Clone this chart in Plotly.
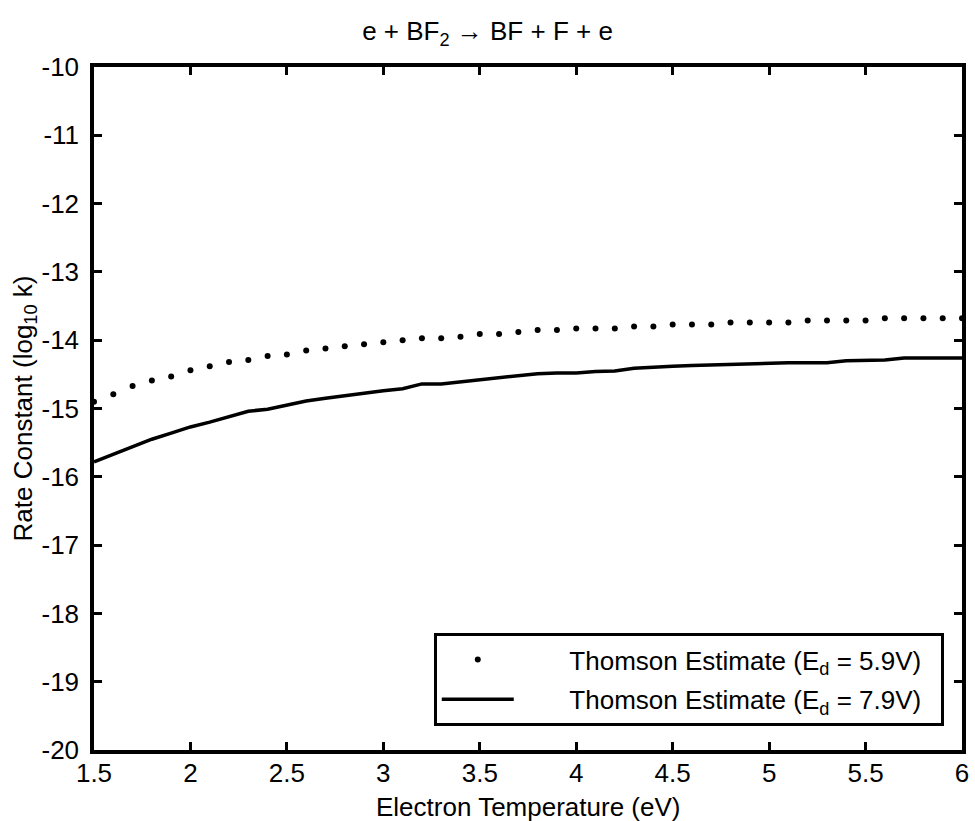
import plotly.graph_objects as go

# Electron temperature (eV)
temp_dotted = [1.5, 1.6, 1.7, 1.8, 1.9, 2.0, 2.1, 2.2, 2.3, 2.4, 2.5, 2.6, 2.7, 2.8, 2.9,
               3.0, 3.1, 3.2, 3.3, 3.4, 3.5, 3.6, 3.7, 3.8, 3.9, 4.0, 4.1, 4.2, 4.3, 4.4,
               4.5, 4.6, 4.7, 4.8, 4.9, 5.0, 5.1, 5.2, 5.3, 5.4, 5.5, 5.6, 5.7, 5.8, 5.9, 6.0]
# log10 k, Thomson estimate Ed = 5.9 V
logk_59 = [-14.90, -14.79, -14.67, -14.59, -14.53, -14.44, -14.38, -14.32, -14.29, -14.23,
           -14.21, -14.15, -14.12, -14.09, -14.06, -14.03, -14.00, -13.97, -13.97, -13.95,
           -13.91, -13.91, -13.88, -13.85, -13.85, -13.83, -13.83, -13.83, -13.80, -13.80,
           -13.77, -13.77, -13.77, -13.74, -13.74, -13.74, -13.74, -13.71, -13.71, -13.71,
           -13.71, -13.68, -13.68, -13.68, -13.68, -13.68]

temp_solid = temp_dotted
# log10 k, Thomson estimate Ed = 7.9 V
logk_79 = [-15.78, -15.67, -15.56, -15.45, -15.36, -15.27, -15.20, -15.12, -15.04, -15.01,
           -14.95, -14.89, -14.85, -14.81, -14.77, -14.74, -14.71, -14.64, -14.64, -14.61,
           -14.58, -14.55, -14.51, -14.49, -14.48, -14.48, -14.46, -14.45, -14.41, -14.39,
           -14.38, -14.37, -14.36, -14.35, -14.35, -14.34, -14.33, -14.33, -14.33, -14.30,
           -14.30, -14.29, -14.26, -14.26, -14.26, -14.26]

x_ticks = [1.5, 2, 2.5, 3, 3.5, 4, 4.5, 5, 5.5, 6]
x_ticklabels = ["1.5", "2", "2.5", "3", "3.5", "4", "4.5", "5", "5.5", "6"]
y_ticks = [-20, -19, -18, -17, -16, -15, -14, -13, -12, -11, -10]
y_ticklabels = [str(v) for v in y_ticks]

FONT = "Liberation Sans, Arial, sans-serif"
FS = 26
LPAD = "\u00a0" * 7
RPAD = "\u00a0" * 2

fig = go.Figure()
fig.add_trace(go.Scatter(
    x=temp_dotted, y=logk_59, mode="markers",
    marker=dict(color="black", size=6),
    name=LPAD + "Thomson Estimate (E<sub>d</sub> = 5.9V)" + RPAD,
    legendgroup="a",
))
fig.add_trace(go.Scatter(
    x=temp_solid, y=logk_79, mode="lines",
    line=dict(color="black", width=3.5),
    name=LPAD + "Thomson Estimate (E<sub>d</sub> = 7.9V)" + RPAD,
    legendgroup="b",
))

axis_common = dict(
    showline=True, linecolor="black", linewidth=3.5, mirror="ticks",
    ticks="inside", ticklen=8, tickwidth=3, tickcolor="black",
    showgrid=False, zeroline=False, automargin=False,
    tickfont=dict(family=FONT, size=FS, color="black"),
)

fig.update_layout(
    width=975, height=821,
    margin=dict(l=94, r=13, t=67, b=71),
    paper_bgcolor="white", plot_bgcolor="white",
    font=dict(family=FONT, size=FS, color="black"),
    title=dict(text="e + BF<sub>2</sub> → BF + F + e", x=0.5, xanchor="center",
               y=0.962, yanchor="middle", font=dict(family=FONT, size=FS, color="black")),
    showlegend=True,
    legend=dict(
        x=0.979, xanchor="right", y=0.035, yanchor="bottom",
        bordercolor="black", borderwidth=3, bgcolor="white",
        font=dict(family=FONT, size=FS, color="black"),
        itemwidth=72, tracegroupgap=3,
    ),
    annotations=[dict(
        text="Electron Temperature (eV)", xref="paper", yref="paper",
        x=0.5, y=-0.0835, xanchor="center", yanchor="middle", showarrow=False,
        font=dict(family=FONT, size=FS, color="black"),
    )],
)
fig.update_xaxes(range=[1.5, 6], tickvals=x_ticks, ticktext=x_ticklabels,
                 ticklabelstandoff=-3, **axis_common)
fig.update_yaxes(range=[-20, -10], tickvals=y_ticks, ticktext=y_ticklabels,
                 title=dict(text="Rate Constant (log<sub>10</sub> k)", standoff=2,
                            font=dict(family=FONT, size=FS, color="black")),
                 ticklabelstandoff=6, **axis_common)

fig.write_html("out.html")
